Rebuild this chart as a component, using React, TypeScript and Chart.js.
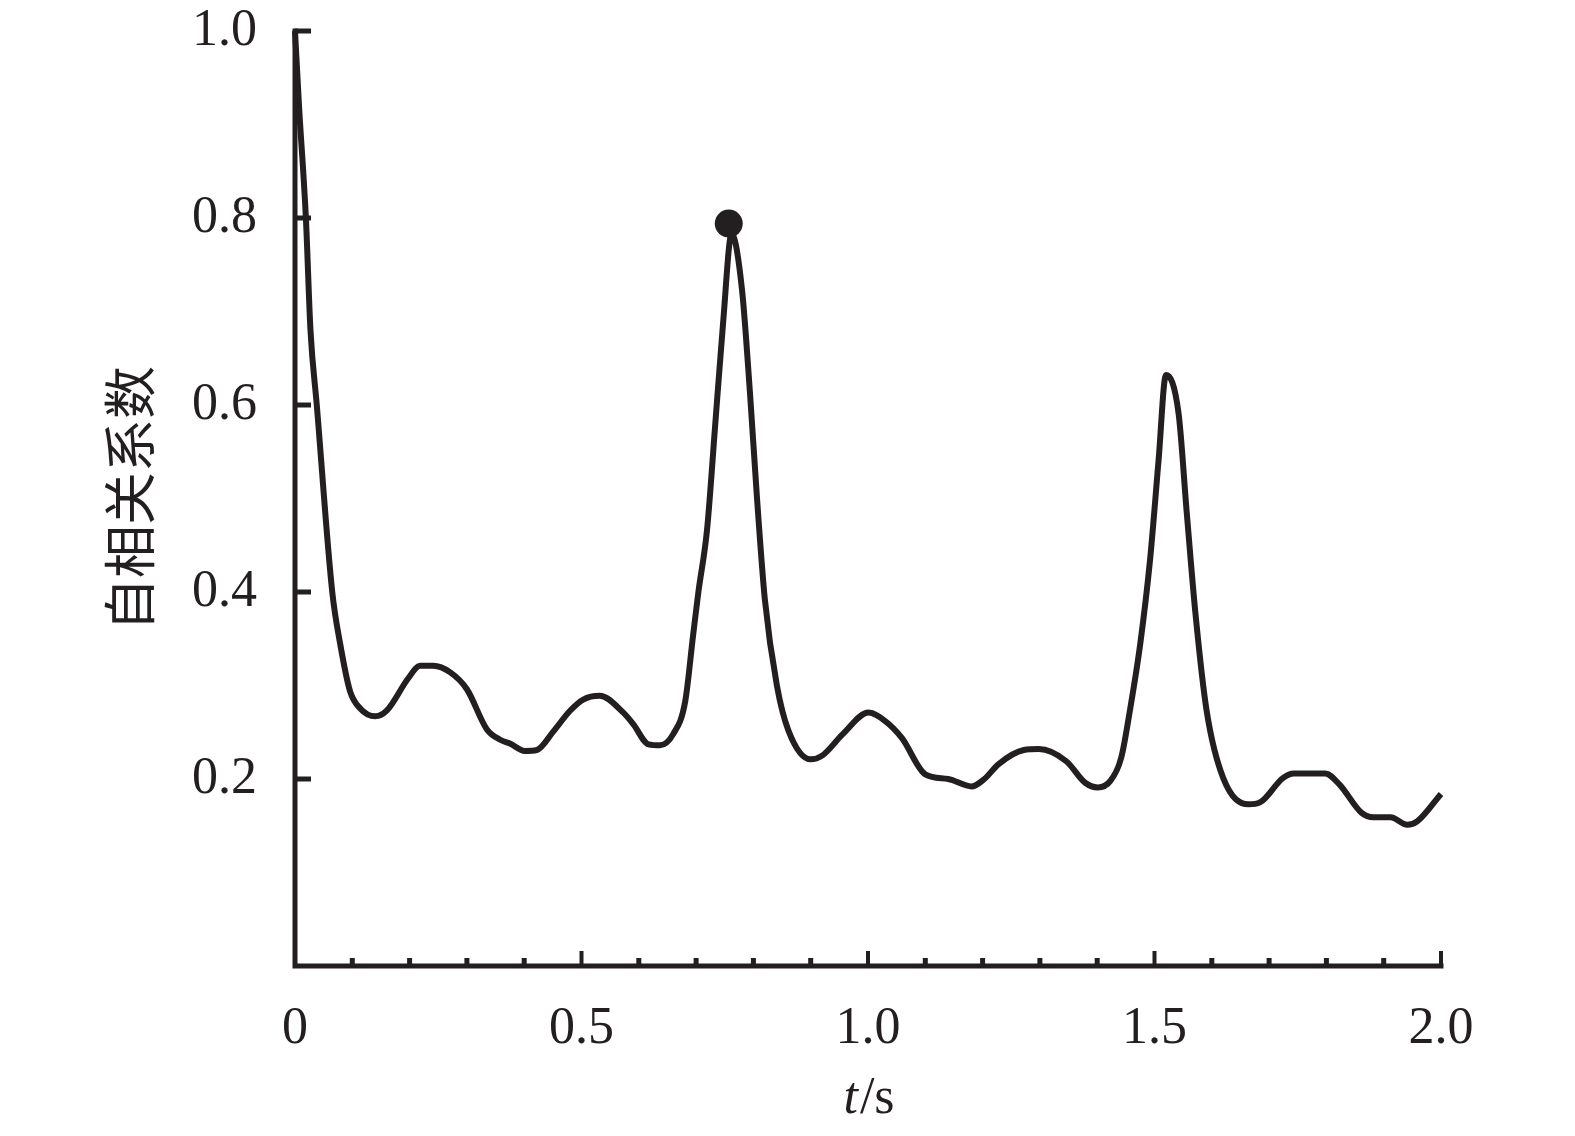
import React, { useEffect, useRef } from 'react';
import { Chart, registerables } from 'chart.js';

Chart.register(...registerables);

// time lag (s)
const timeS = [
  0, 0.007, 0.019, 0.027, 0.038, 0.065, 0.079, 0.096, 0.113, 0.14, 0.16, 0.198, 0.218, 0.241,
  0.271, 0.3, 0.335, 0.358, 0.375, 0.401, 0.422, 0.451, 0.48, 0.503, 0.532, 0.573, 0.59, 0.617,
  0.637, 0.66, 0.681, 0.695, 0.704, 0.719, 0.733, 0.747, 0.762, 0.78, 0.794, 0.806, 0.82, 0.841,
  0.861, 0.9, 0.92, 0.956, 1.001, 1.03, 1.059, 1.1, 1.14, 1.181, 1.203, 1.228, 1.272, 1.298,
  1.346, 1.379, 1.401, 1.423, 1.442, 1.457, 1.475, 1.492, 1.507, 1.52, 1.542, 1.556, 1.571,
  1.591, 1.62, 1.664, 1.684, 1.724, 1.743, 1.798, 1.823, 1.861, 1.882, 1.912, 1.941, 1.959, 2.0,
];

// autocorrelation coefficient
const autocorr = [
  1.0, 0.92, 0.8, 0.68, 0.6, 0.4, 0.344, 0.294, 0.276, 0.267, 0.273, 0.308, 0.321, 0.321,
  0.314, 0.296, 0.253, 0.242, 0.238, 0.23, 0.231, 0.251, 0.273, 0.285, 0.289, 0.271, 0.259, 0.237,
  0.236, 0.248, 0.283, 0.355, 0.4, 0.466, 0.576, 0.687, 0.783, 0.724, 0.613, 0.503, 0.392, 0.3,
  0.252, 0.221, 0.225, 0.248, 0.271, 0.262, 0.244, 0.205, 0.2, 0.192, 0.2, 0.216, 0.231, 0.232,
  0.219, 0.196, 0.191, 0.198, 0.223, 0.273, 0.344, 0.433, 0.54, 0.632, 0.591, 0.487, 0.38,
  0.273, 0.201, 0.173, 0.175, 0.201, 0.206, 0.206, 0.194, 0.164, 0.159, 0.159, 0.151, 0.155, 0.184,
];

// highlighted peak
const markerTime = [0.757];
const markerValue = [0.794];

const xLabelValues = [0, 0.5, 1.0, 1.5, 2.0];
const xMinorTickValues = [0.1, 0.2, 0.3, 0.4, 0.6, 0.7, 0.8, 0.9, 1.1, 1.2, 1.3, 1.4, 1.6, 1.7, 1.8, 1.9];
const xMajorTickValues = [0.5, 1.0, 1.5, 2.0];
const yTickValues = [0.2, 0.4, 0.6, 0.8, 1.0];

const xTitleItalic = 't';
const xTitleRest = '/s';
const yTitle = '自相关系数';

const INK = '#231f20';
const SERIF = '"Liberation Serif", "DejaVu Serif", serif';

const axesPlugin = {
  id: 'inwardAxes',
  afterDraw(chart: any) {
    const { ctx, chartArea: a, scales } = chart;
    const xs = scales.x;
    const ys = scales.y;
    ctx.save();
    ctx.strokeStyle = INK;
    ctx.lineWidth = 5;
    // axes
    ctx.lineCap = 'square';
    ctx.beginPath();
    ctx.moveTo(a.left, ys.getPixelForValue(1.0));
    ctx.lineTo(a.left, a.bottom);
    ctx.lineTo(xs.getPixelForValue(2.0), a.bottom);
    ctx.stroke();
    // ticks
    ctx.lineCap = 'butt';
    ctx.beginPath();
    xMinorTickValues.forEach((v) => {
      const px = xs.getPixelForValue(v);
      ctx.moveTo(px, a.bottom);
      ctx.lineTo(px, a.bottom - 8);
    });
    ctx.stroke();
    ctx.lineWidth = 4;
    ctx.beginPath();
    xMajorTickValues.forEach((v) => {
      const px = xs.getPixelForValue(v);
      ctx.moveTo(px, a.bottom);
      ctx.lineTo(px, a.bottom - 15);
    });
    ctx.stroke();
    ctx.lineWidth = 5;
    ctx.beginPath();
    yTickValues.forEach((v) => {
      const py = ys.getPixelForValue(v);
      ctx.moveTo(a.left, py);
      ctx.lineTo(a.left + 16, py);
    });
    ctx.stroke();
    // x title: italic t + /s
    ctx.fillStyle = INK;
    ctx.textBaseline = 'alphabetic';
    const italicFont = `italic 52px ${SERIF}`;
    const normalFont = `52px ${SERIF}`;
    ctx.font = italicFont;
    const w1 = ctx.measureText(xTitleItalic).width;
    ctx.font = normalFont;
    const w2 = ctx.measureText(xTitleRest).width;
    const cx = (a.left + a.right) / 2;
    const x0 = cx - (w1 + w2) / 2;
    const by = 1113;
    ctx.font = italicFont;
    ctx.fillText(xTitleItalic, x0, by);
    ctx.font = normalFont;
    ctx.fillText(xTitleRest, x0 + w1 + 2, by);
    ctx.restore();
  },
};

export default function App() {
  const canvasRef = useRef<HTMLCanvasElement | null>(null);

  useEffect(() => {
    document.body.style.margin = '0';
    const canvas = canvasRef.current;
    if (!canvas) return;
    const curve = timeS.map((t, i) => ({ x: t, y: autocorr[i] }));
    const marker = markerTime.map((t, i) => ({ x: t, y: markerValue[i] }));
    const chart = new Chart(canvas, {
      type: 'scatter',
      data: {
        datasets: [
          {
            data: marker,
            showLine: false,
            pointRadius: 14,
            pointBackgroundColor: INK,
            pointBorderColor: INK,
            pointBorderWidth: 0,
            clip: false,
          } as any,
          {
            data: curve,
            showLine: true,
            borderColor: INK,
            borderWidth: 6,
            pointRadius: 0,
            cubicInterpolationMode: 'monotone',
            clip: false,
          } as any,
        ],
      },
      options: {
        responsive: false,
        animation: false,
        devicePixelRatio: 1,
        layout: { padding: { left: 0, right: 134, top: 31, bottom: 0 } },
        plugins: {
          legend: { display: false },
          tooltip: { enabled: false },
        },
        scales: {
          x: {
            type: 'linear',
            min: 0,
            max: 2,
            grid: { display: false, drawTicks: false },
            border: { display: false },
            afterFit: (s: any) => {
              s.height = 170;
              s.paddingLeft = 0;
              s.paddingRight = 0;
            },
            ticks: {
              stepSize: 0.1,
              autoSkip: false,
              maxRotation: 0,
              padding: 32,
              color: INK,
              font: { family: SERIF, size: 52 },
              callback: (v: any) => {
                const n = Number(v);
                if (!xLabelValues.some((l) => Math.abs(l - n) < 1e-6)) return '';
                return n === 0 ? '0' : n.toFixed(1);
              },
            },
          },
          y: {
            type: 'linear',
            min: 0,
            max: 1,
            grid: { display: false, drawTicks: false },
            border: { display: false },
            afterFit: (s: any) => {
              s.width = 295;
              s.paddingTop = 0;
              s.paddingBottom = 0;
            },
            title: {
              display: true,
              text: yTitle,
              color: INK,
              font: { family: '"Noto Sans CJK SC", sans-serif', size: 53, weight: 'normal' },
              padding: { top: 98, bottom: 0 },
            },
            ticks: {
              stepSize: 0.2,
              padding: 38,
              color: INK,
              font: { family: SERIF, size: 52 },
              callback: (v: any) => {
                const n = Number(v);
                return Math.abs(n) < 1e-6 ? '' : n.toFixed(1);
              },
            },
          },
        },
      },
      plugins: [axesPlugin],
    });
    return () => chart.destroy();
  }, []);

  return (
    <div style={{ position: 'absolute', left: 0, top: 0, width: 1575, height: 1136 }}>
      <canvas ref={canvasRef} width={1575} height={1136} style={{ width: 1575, height: 1136 }} />
    </div>
  );
}
